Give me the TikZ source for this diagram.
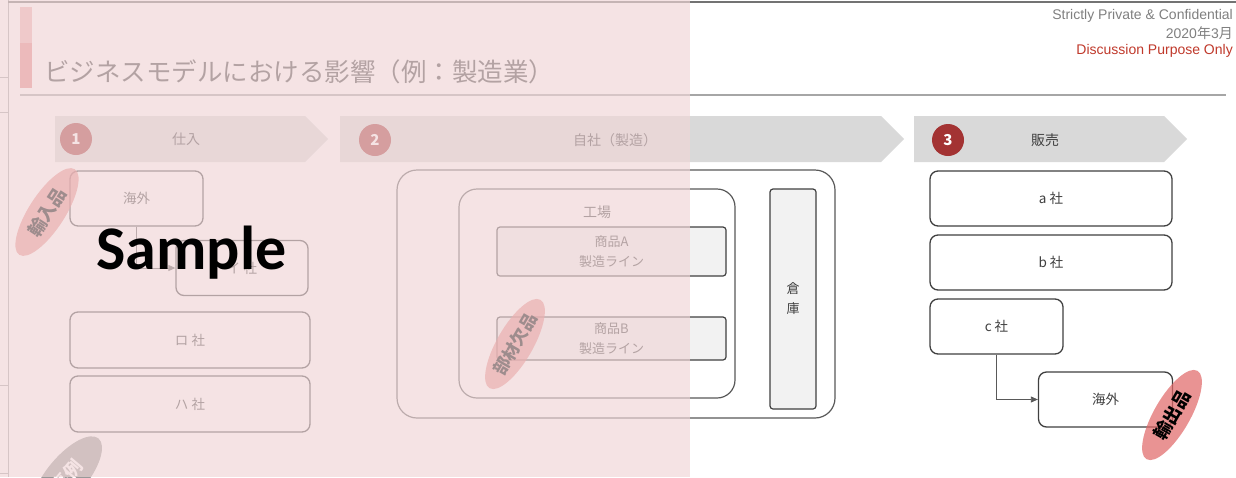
\documentclass[tikz,border=0pt]{standalone}
\usepackage{fontspec}
\setmainfont{Noto Sans CJK JP}
\newfontfamily\latinfont{Liberation Sans}
\newfontfamily\samplefont{Carlito}
\usetikzlibrary{shapes.geometric,arrows.meta}
\definecolor{chev}{HTML}{D9D9D9}
\definecolor{numred}{HTML}{A33333}
\definecolor{boxline}{HTML}{404040}
\definecolor{frameline}{HTML}{595959}
\definecolor{txt}{HTML}{404040}
\definecolor{hl}{HTML}{E06666}
\definecolor{lightfill}{HTML}{F2F2F2}
\definecolor{ovl}{RGB}{240,214,215}
\definecolor{confred}{HTML}{C0392B}
\begin{document}
\begin{tikzpicture}[x=1pt,y=-1pt,
  rbox/.style={draw=boxline, line width=1.3pt, rounded corners=8pt, fill=white, text=txt,
    font=\fontsize{13.5}{16}\selectfont, inner sep=0pt},
  linebox/.style={draw=boxline, line width=1.2pt, rounded corners=3pt, fill=lightfill, text=txt,
    font=\fontsize{13}{20}\selectfont, align=center, inner sep=0pt},
  frame/.style={draw=frameline, line width=1.2pt, fill=none},
  chevlabel/.style={text=txt, font=\fontsize{14}{16}\selectfont},
  numdot/.style={circle, fill=numred, text=white, minimum size=32pt, inner sep=0pt,
    font=\fontsize{15}{16}\selectfont\bfseries},
  hlmark/.style={ellipse, fill=hl, fill opacity=0.7, text opacity=1, inner sep=0pt,
    minimum width=102pt, minimum height=36pt, rotate=60, text=black,
    font=\fontsize{18}{20}\selectfont\bfseries},
  conn/.style={draw=frameline, line width=0.8pt, -{Triangle[length=7pt,width=6pt]}},
  toptext/.style={anchor=east, inner sep=0pt, font=\latinfont\fontsize{14}{16}\selectfont}
]
\useasboundingbox (0,0) rectangle (1236,477);
\fill[white] (0,0) rectangle (1236,477);

% page edge beneath
\draw[draw=black!35, line width=1pt] (8,0) -- (8,477);
\draw[draw=black!35, line width=1pt] (0,77) -- (8,77) (0,112) -- (8,112) (0,385) -- (8,385) (0,473) -- (8,473);
\draw[draw=black!55, line width=1.2pt] (8,2) -- (1236,2);

% title
\fill[hl!50] (20,7) rectangle (32,43);
\fill[hl!80] (20,43) rectangle (32,88);
\node[anchor=west, inner sep=0pt, text=txt, font=\fontsize{25.5}{28}\selectfont] (title) at (44,72)
  {ビジネスモデルにおける影響（例：製造業）};
\draw[draw=black!35, line width=2pt] (20,95) -- (1226,95);

% top right
\node[toptext, text=black!50] (conf) at (1233,16) {Strictly Private \& Confidential};
\node[toptext, text=black!50] (date) at (1233,33) {2020{\fontspec{Noto Sans CJK JP}年}3{\fontspec{Noto Sans CJK JP}月}};
\node[toptext, text=confred] (disc) at (1233,51) {Discussion Purpose Only};

% chevrons
\fill[chev] (55,116) -- (305,116) -- (328,139) -- (305,162) -- (55,162) -- cycle;
\fill[chev] (340,116) -- (881,116) -- (904,139) -- (881,162) -- (340,162) -- cycle;
\fill[chev] (914,116) -- (1164,116) -- (1187,139) -- (1164,162) -- (914,162) -- cycle;
\node[numdot] (n1) at (76,139) {1};
\node[numdot] (n2) at (375,140) {2};
\node[numdot] (n3) at (948,140) {3};
\node[chevlabel] (c1) at (186,139) {仕入};
\node[chevlabel] (c2) at (615,140) {自社（製造）};
\node[chevlabel] (c3) at (1045,140) {販売};

% left column
\node[rbox, minimum width=133pt, minimum height=55pt] (kaigaiL) at (136.5,198.5) {海外};
\node[rbox, minimum width=132pt, minimum height=55pt] (isha) at (242,268) {イ 社};
\node[rbox, minimum width=240pt, minimum height=56pt] (rosha) at (190,340) {ロ 社};
\node[rbox, minimum width=240pt, minimum height=56pt] (hasha) at (190,404) {ハ 社};
\draw[conn] (kaigaiL.south) |- (isha.west);

% center
\node[frame, rounded corners=20pt, minimum width=438pt, minimum height=248pt] (jisha) at (616,294) {};
\node[frame, rounded corners=18pt, minimum width=276pt, minimum height=209pt] (kojo) at (597,293.5) {};
\node[text=txt, font=\fontsize{14}{16}\selectfont] (kojolab) at (597,212) {工場};
\node[linebox, minimum width=229pt, minimum height=49pt] (lineA) at (611.5,251.5) {商品A\\製造ライン};
\node[linebox, minimum width=229pt, minimum height=43pt] (lineB) at (611.5,338.5) {商品B\\製造ライン};
\node[linebox, minimum width=46pt, minimum height=220pt] (soko) at (793,299) {倉\\庫};

% right column
\node[rbox, minimum width=242pt, minimum height=55pt] (asha) at (1051,198.5) {a 社};
\node[rbox, minimum width=242pt, minimum height=55pt] (bsha) at (1051,262.5) {b 社};
\node[rbox, minimum width=133pt, minimum height=55pt] (csha) at (996.5,326.5) {c 社};
\node[rbox, minimum width=134pt, minimum height=55pt] (kaigaiR) at (1105.5,399.5) {海外};
\draw[conn] (csha.south) |- (kaigaiR.west);

% highlight marks
\node[hlmark, rotate=-3] (yunyu) at (47,212) {輸入品};
\node[hlmark, font=\fontsize{17}{20}\selectfont\bfseries] (buzai) at (515,344) {部材欠品};
\node[hlmark] (yushutsu) at (1172,415) {輸出品};
\node[ellipse, fill=black!40, text=white, inner sep=0pt, minimum width=98pt, minimum height=40pt,
  rotate=50, font=\fontsize{18}{20}\selectfont\bfseries] (jirei) at (67,476) {事例};

% sample overlay
\fill[ovl, opacity=0.66] (0,0) rectangle (690,477);
\node[font=\samplefont\bfseries\fontsize{62}{70}\selectfont, text=black, inner sep=0pt] (sample) at (191.5,252.5) {Sample};
\end{tikzpicture}
\end{document}
